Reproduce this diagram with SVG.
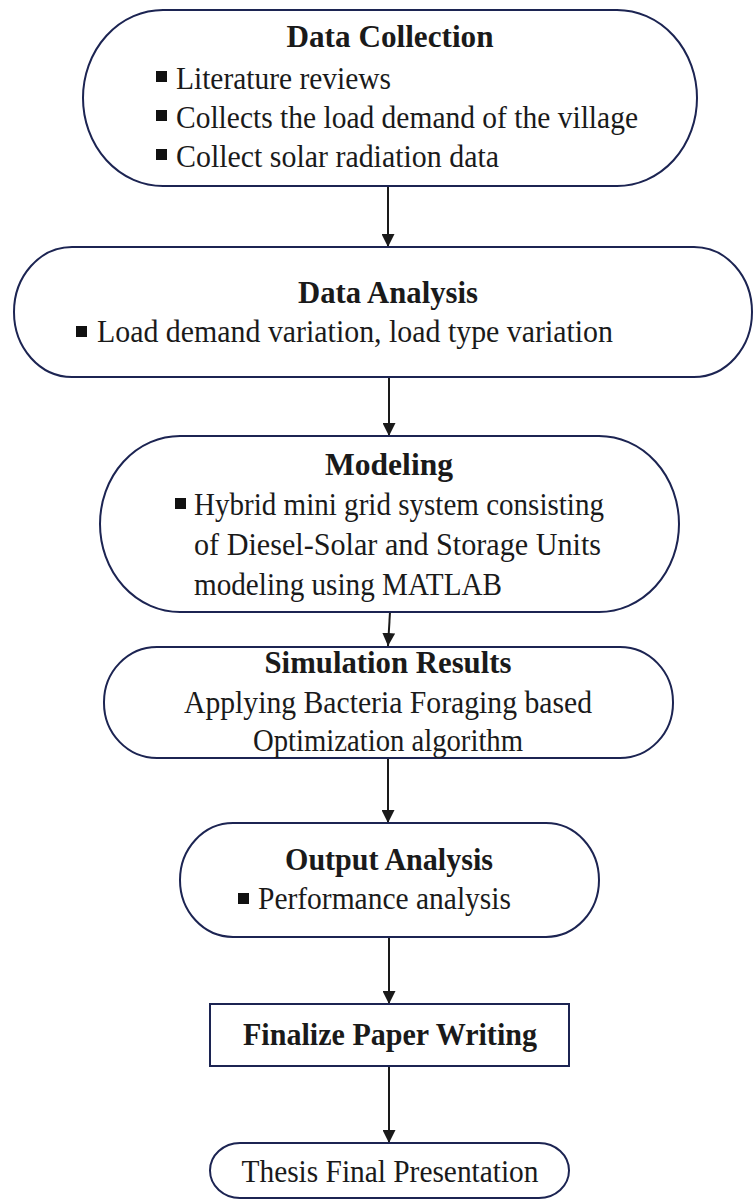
<svg xmlns="http://www.w3.org/2000/svg" width="754" height="1200" viewBox="0 0 754 1200">
  <style>
    .box { fill: #ffffff; stroke: #1c2452; stroke-width: 2; }
    .title { font-family: "Liberation Serif", "Times New Roman", serif; font-weight: bold; font-size: 31px; fill: #1a1a1a; text-anchor: middle; }
    .body { font-family: "Liberation Serif", "Times New Roman", serif; font-size: 32.5px; fill: #1a1a1a; }
    .mid { text-anchor: middle; }
    .bullet { fill: #111111; }
    .conn { stroke: #1a1a1a; stroke-width: 2; fill: none; marker-end: url(#arrow); }
  </style>
  <defs>
    <marker id="arrow" viewBox="0 0 13 13" refX="13" refY="6.5" markerWidth="13" markerHeight="13" markerUnits="userSpaceOnUse" orient="auto">
      <path d="M0,0 L13,6.5 L0,13 Z" fill="#1a1a1a"/>
    </marker>
  </defs>
  <rect width="754" height="1200" fill="#ffffff"/>

  <g id="connectors">
    <line class="conn" x1="388" y1="186" x2="388" y2="247"/>
    <line class="conn" x1="389" y1="377" x2="389" y2="436"/>
    <line class="conn" x1="390" y1="612" x2="388" y2="646"/>
    <line class="conn" x1="388" y1="758" x2="388" y2="823"/>
    <line class="conn" x1="389" y1="937" x2="389" y2="1004"/>
    <line class="conn" x1="389" y1="1066" x2="389" y2="1143"/>
  </g>

  <g id="data-collection">
    <rect class="box" x="83" y="10" width="614" height="176" rx="80" ry="88"/>
    <text class="title" x="390" y="47" textLength="207" lengthAdjust="spacingAndGlyphs">Data Collection</text>
    <rect class="bullet" x="156" y="71" width="11" height="11"/>
    <text class="body" x="176" y="89" textLength="215" lengthAdjust="spacingAndGlyphs">Literature reviews</text>
    <rect class="bullet" x="156" y="110" width="11" height="11"/>
    <text class="body" x="176" y="128" textLength="462" lengthAdjust="spacingAndGlyphs">Collects the load demand of the village</text>
    <rect class="bullet" x="156" y="149" width="11" height="11"/>
    <text class="body" x="176" y="167" textLength="323" lengthAdjust="spacingAndGlyphs">Collect solar radiation data</text>
  </g>

  <g id="data-analysis">
    <rect class="box" x="14" y="247" width="738" height="130" rx="58" ry="65"/>
    <text class="title" x="388" y="303" textLength="180" lengthAdjust="spacingAndGlyphs">Data Analysis</text>
    <rect class="bullet" x="76" y="326" width="11" height="11"/>
    <text class="body" x="97" y="342" textLength="516" lengthAdjust="spacingAndGlyphs">Load demand variation, load type variation</text>
  </g>

  <g id="modeling">
    <rect class="box" x="100" y="436" width="579" height="176" rx="80" ry="88"/>
    <text class="title" x="389" y="475" textLength="128" lengthAdjust="spacingAndGlyphs">Modeling</text>
    <rect class="bullet" x="175" y="498" width="11" height="11"/>
    <text class="body" x="194" y="515" textLength="410" lengthAdjust="spacingAndGlyphs">Hybrid mini grid system consisting</text>
    <text class="body" x="194" y="555" textLength="407" lengthAdjust="spacingAndGlyphs">of Diesel-Solar and Storage Units</text>
    <text class="body" x="194" y="595" textLength="308" lengthAdjust="spacingAndGlyphs">modeling using MATLAB</text>
  </g>

  <g id="simulation-results">
    <rect class="box" x="104" y="647" width="569" height="111" rx="53" ry="55"/>
    <text class="title" x="388" y="673" textLength="247" lengthAdjust="spacingAndGlyphs">Simulation Results</text>
    <text class="body mid" x="388" y="713" textLength="408" lengthAdjust="spacingAndGlyphs">Applying Bacteria Foraging based</text>
    <text class="body mid" x="388" y="751" textLength="270" lengthAdjust="spacingAndGlyphs">Optimization algorithm</text>
  </g>

  <g id="output-analysis">
    <rect class="box" x="180" y="823" width="419" height="114" rx="53" ry="57"/>
    <text class="title" x="389" y="870" textLength="208" lengthAdjust="spacingAndGlyphs">Output Analysis</text>
    <rect class="bullet" x="238" y="893" width="11" height="11"/>
    <text class="body" x="258" y="909" textLength="253" lengthAdjust="spacingAndGlyphs">Performance analysis</text>
  </g>

  <g id="finalize-paper">
    <rect class="box" x="210" y="1004" width="359" height="62"/>
    <text class="title" x="390" y="1045" textLength="294" lengthAdjust="spacingAndGlyphs">Finalize Paper Writing</text>
  </g>

  <g id="thesis-presentation">
    <rect class="box" x="210" y="1143" width="359" height="55" rx="30" ry="27.5"/>
    <text class="body mid" x="390" y="1182" textLength="297" lengthAdjust="spacingAndGlyphs">Thesis Final Presentation</text>
  </g>
</svg>
